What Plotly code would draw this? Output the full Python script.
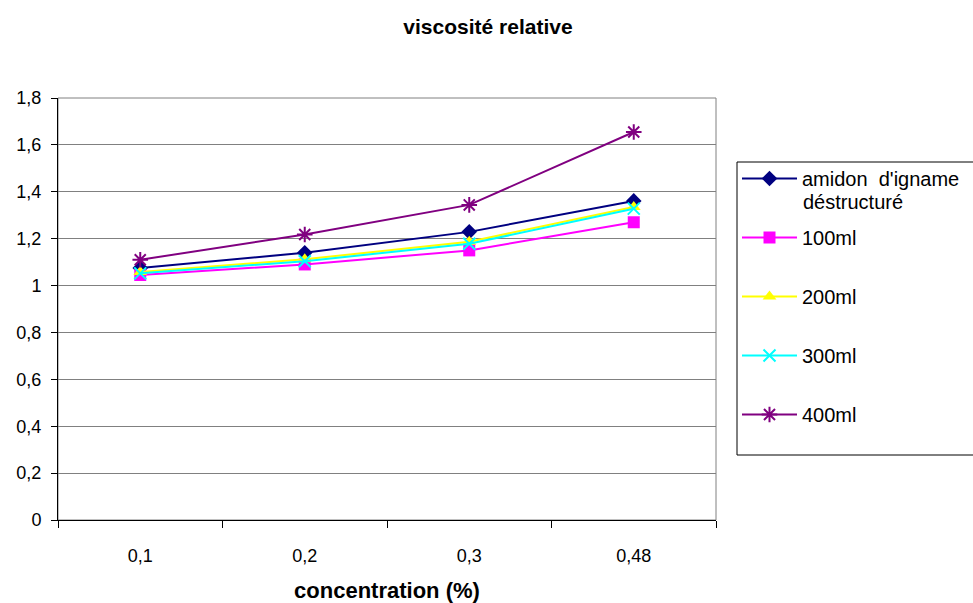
import plotly.graph_objects as go

categories = ["0,1", "0,2", "0,3", "0,48"]
amidon = [1.075, 1.14, 1.229, 1.361]
ml100 = [1.045, 1.09, 1.15, 1.27]
ml200 = [1.058, 1.112, 1.187, 1.335]
ml300 = [1.052, 1.104, 1.178, 1.328]
ml400 = [1.11, 1.218, 1.344, 1.655]
y_ticks = [0, 0.2, 0.4, 0.6, 0.8, 1.0, 1.2, 1.4, 1.6, 1.8]
y_tick_labels = ["0", "0,2", "0,4", "0,6", "0,8", "1", "1,2", "1,4", "1,6", "1,8"]

series = [
    ("amidon  d'igname", amidon, "#000080", "diamond", 12, 0),
    ("100ml", ml100, "#FF00FF", "square", 12, 0),
    ("200ml", ml200, "#FFFF00", "triangle-up", 12, 0),
    ("300ml", ml300, "#00FFFF", "x-thin-open", 12, 2),
    ("400ml", ml400, "#800080", "asterisk-open", 13, 2),
]

fig = go.Figure()
for i, (name, vals, color, sym, size, lw) in enumerate(series):
    fig.add_trace(go.Scatter(
        x=categories, y=vals, name=name, mode="lines+markers",
        legendgroup=f"g{i}",
        line=dict(color=color, width=2),
        marker=dict(symbol=sym, size=size, color=color,
                    line=dict(color=color, width=lw)),
    ))

PX_L, PX_R, PX_T, PX_B = 58, 716, 98, 520
W = PX_R - PX_L
H = PX_B - PX_T

def px(x):
    return (x - PX_L) / W

def py(y):
    return (PX_B - y) / H

fig.update_layout(
    width=973, height=603,
    paper_bgcolor="white", plot_bgcolor="white",
    margin=dict(l=PX_L, r=973 - PX_R, t=PX_T, b=603 - PX_B, autoexpand=False),
    font=dict(family="Liberation Sans, Arial, sans-serif", color="black", size=18),
    title=dict(text="<b>viscosité relative</b>", x=488 / 973, xanchor="center",
               y=1 - 27 / 603, yanchor="middle", font=dict(size=21)),
    legend=dict(x=px(737), xanchor="left", y=py(159), yanchor="top",
                borderwidth=0, bgcolor="rgba(0,0,0,0)",
                font=dict(size=20), tracegroupgap=30, itemwidth=55),
    showlegend=True,
)
# legend frame (extends past the right edge like the reference)
fig.add_shape(type="rect", xref="paper", yref="paper",
              x0=px(737), x1=px(1000), y0=py(455), y1=py(162),
              line=dict(color="black", width=1), fillcolor="rgba(0,0,0,0)")
fig.add_annotation(text="déstructuré", xref="paper", yref="paper",
                   x=px(801), y=py(202), xanchor="left", yanchor="middle",
                   showarrow=False, font=dict(size=20))
fig.update_xaxes(
    type="category", range=[-0.5, 3.5], tickson="boundaries",
    ticks="outside", ticklen=7, tickcolor="black",
    showline=True, linecolor="black", linewidth=1, mirror=False,
    showgrid=False, tickfont=dict(size=18), ticklabelstandoff=19,
    title=dict(text="<b>concentration (%)</b>", font=dict(size=22), standoff=19),
)
fig.update_yaxes(
    range=[0, 1.8], tickvals=y_ticks, ticktext=y_tick_labels,
    ticks="outside", ticklen=6, tickcolor="black",
    showline=True, linecolor="black", linewidth=1,
    showgrid=True, gridcolor="#808080", gridwidth=1,
    zeroline=False, tickfont=dict(size=18), ticklabelstandoff=6,
)
fig.add_shape(type="rect", xref="paper", yref="paper", x0=0, y0=0, x1=1, y1=1,
              line=dict(color="#808080", width=1), layer="below")

fig.write_html("out.html")
